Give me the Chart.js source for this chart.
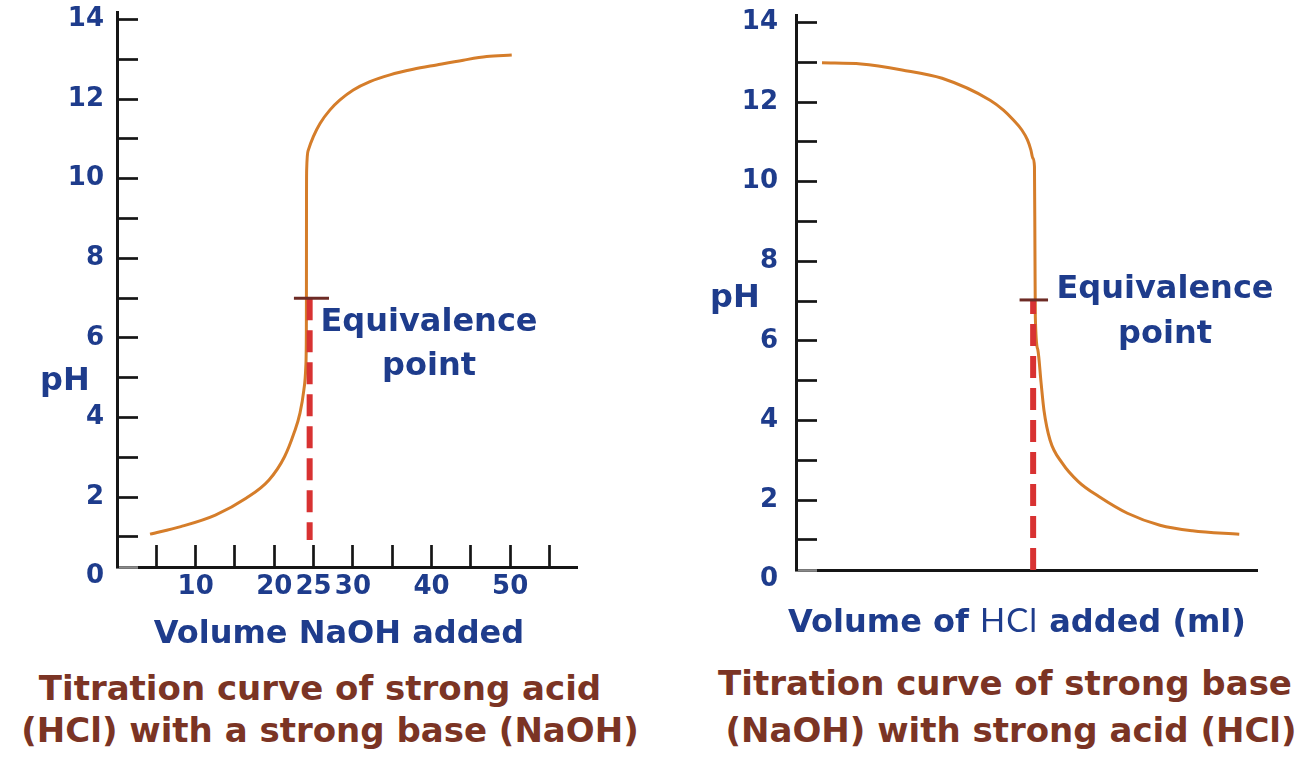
<!DOCTYPE html>
<html lang="en">
<head>
<meta charset="UTF-8" />
<title>Titration curves</title>
<style>
  * { box-sizing: border-box; margin: 0; padding: 0; }
  body {
    width: 1313px;
    height: 761px;
    background: #fff;
    position: relative;
    overflow: hidden;
    font-family: 'DejaVu Sans', sans-serif;
    font-weight: bold;
  }
  canvas { position: absolute; top: 0; }
  #acidChart { left: 0; }
  #baseChart { left: 680px; }
  .txt {
    position: absolute;
    white-space: nowrap;
    line-height: 1;
    color: #1e3c8c;
  }
  .c { transform: translateX(-50%); text-align: center; }
  .axis-t { font-size: 32px; }
  .eq { font-size: 32px; }
  .cap { font-size: 34px; color: #7b3424; }
  .hcl { font-family: Lato, 'Open Sans', sans-serif; font-weight: normal; font-size: 33px; letter-spacing: 1px; }
</style>
</head>
<body>
<canvas id="acidChart" width="640" height="620"></canvas>
<canvas id="baseChart" width="633" height="620"></canvas>

<div class="txt axis-t" style="left:40px; top:363px;">pH</div>
<div class="txt axis-t" style="left:710px; top:280px;">pH</div>

<div class="txt eq c" style="left:429px; top:298px; line-height:44px;">Equivalence<br>point</div>
<div class="txt eq c" style="left:1165px; top:265px; line-height:45px;">Equivalence<br>point</div>

<div class="txt axis-t c" style="left:339px; top:616px;">Volume NaOH added</div>
<div class="txt axis-t c" style="left:1017px; top:603px;">Volume of <span class="hcl">HCl</span> added (ml)</div>

<div class="txt cap c" style="left:320px; top:671px;">Titration curve of strong acid</div>
<div class="txt cap c" style="left:330px; top:713px;">(HCl) with a strong base (NaOH)</div>
<div class="txt cap c" style="left:1005px; top:666px;">Titration curve of strong base</div>
<div class="txt cap c" style="left:1011px; top:713px;">(NaOH) with strong acid (HCl)</div>

<script src="https://cdn.jsdelivr.net/npm/chart.js"></script>
<script>
// left: strong acid titrated with strong base
const acidVol = [4.2, 8.11, 12.51, 16.41, 19.33, 21.32, 22.51, 23.27, 23.76, 24.01, 24.08, 24.09, 24.10, 24.12,
  24.33, 24.97, 25.82, 27.09, 28.36, 30.05, 32.17, 34.71, 37.67, 40.65, 44.04, 47.02, 50.2];
const acidPH = [1.07, 1.26, 1.55, 1.97, 2.43, 3.02, 3.61, 4.11, 4.69, 5.28, 6.12, 6.95, 9.47, 10.22,
  10.72, 11.06, 11.39, 11.73, 11.98, 12.23, 12.44, 12.61, 12.75, 12.86, 12.98, 13.07, 13.11];
const acidEqVol = [24.5, 24.5];
const acidEqPH = [7.0, 0.92];
const acidMarkVol = [22.5, 26.96];
const acidMarkPH = [7.0, 7.0];

// right: strong base titrated with strong acid
const baseVol = [2.74, 6.86, 11.18, 15.40, 20.46, 21.87, 22.92, 23.81, 24.40, 24.76, 24.97, 25.14, 25.19,
  25.23, 25.50, 25.84, 26.14, 26.78, 28.07, 29.79, 31.93, 34.94, 38.37, 41.79, 46.73];
const basePH = [12.99, 12.96, 12.81, 12.60, 12.05, 11.80, 11.55, 11.30, 11.05, 10.80, 10.59, 10.38, 8.28,
  6.61, 5.77, 4.94, 4.26, 3.51, 2.93, 2.46, 2.09, 1.67, 1.37, 1.23, 1.14];
const baseEqVol = [25.0, 25.0];
const baseEqPH = [7.03, 0.244];
const baseMarkVol = [23.57, 26.57];
const baseMarkPH = [7.03, 7.03];

// axis ticks
const phTicks = [0, 1, 2, 3, 4, 5, 6, 7, 8, 9, 10, 11, 12, 13, 14];
const acidVolTicks = [5, 10, 15, 20, 25, 30, 35, 40, 45, 50, 55];
const acidVolLabels = [10, 20, 25, 30, 40, 50];

Chart.defaults.font.family = "'DejaVu Sans', sans-serif";

const pts = (xs, ys) => xs.map((x, i) => ({ x, y: ys[i] }));

const blue = '#1e3c8c';
const ink = '#151515';

const zeroPad = s => {
  s.paddingLeft = s.paddingRight = s.paddingTop = s.paddingBottom = 0;
};

// colour of the y tick marks: grey stub at the origin, none for the "0" label below the axis
const yTickColor = c => {
  if (!c.tick) return ink;
  if (c.tick.value === 0) return 'rgba(0,0,0,0)';
  return c.tick.value < 0.5 ? '#8a8a8a' : ink;
};

const makeChart = (id, o) => {
  const xScale = {
    type: 'linear',
    min: 0,
    max: o.xMax,
    border: { color: ink, width: 3 },
    grid: { drawOnChartArea: false, drawTicks: !!o.xTicks, tickLength: -22, tickWidth: 2.7, tickColor: ink },
    ticks: {
      display: !!o.xTicks,
      autoSkip: false,
      maxRotation: 0,
      padding: 27,
      color: blue,
      font: { size: 26, weight: 'bold' },
      callback: v => (o.xLabels && o.xLabels.includes(v)) ? v : ''
    },
    afterFit: s => { s.height = o.xHeight; zeroPad(s); }
  };
  if (o.xTicks) {
    xScale.afterBuildTicks = s => { s.ticks = o.xTicks.map(v => ({ value: v })); };
  }

  return new Chart(document.getElementById(id), {
    type: 'line',
    data: {
      datasets: [
        { data: pts(o.markVol, o.markPH), borderColor: '#6d2b25', borderWidth: 3 },
        { data: pts(o.eqVol, o.eqPH), borderColor: '#d83232', borderWidth: 6,
          borderDash: [22, 10], borderDashOffset: o.dashOffset },
        { data: pts(o.vol, o.ph), borderColor: '#d57d2a', borderWidth: 3, cubicInterpolationMode: 'monotone' }
      ]
    },
    options: {
      responsive: false,
      animation: false,
      events: [],
      elements: { point: { radius: 0 }, line: { tension: 0, fill: false } },
      layout: { autoPadding: false, padding: o.padding },
      plugins: { legend: { display: false }, tooltip: { enabled: false } },
      scales: {
        x: xScale,
        y: {
          type: 'linear',
          min: 0.244,
          max: 14.19,
          border: { z: 1, color: ink, width: 3 },
          grid: {
            z: 1,
            drawOnChartArea: false,
            tickLength: -21,
            tickWidth: 2.7,
            tickColor: yTickColor
          },
          ticks: {
            z: 1,
            autoSkip: false,
            padding: o.yPad,
            color: blue,
            font: { size: 26, weight: 'bold' },
            callback: v => v % 2 === 0 ? v : ''
          },
          afterBuildTicks: s => { s.ticks = [s.min].concat(phTicks).map(v => ({ value: v })); },
          afterFit: s => { s.width = o.yWidth; zeroPad(s); }
        }
      }
    }
  });
};

makeChart('acidChart', {
  vol: acidVol, ph: acidPH,
  eqVol: acidEqVol, eqPH: acidEqPH,
  markVol: acidMarkVol, markPH: acidMarkPH,
  xTicks: acidVolTicks, xLabels: acidVolLabels,
  xMax: 58.5, xHeight: 53, yWidth: 117, yPad: 34, dashOffset: 0,
  padding: { top: 12, right: 63, bottom: 0, left: 0 }
});

makeChart('baseChart', {
  vol: baseVol, ph: basePH,
  eqVol: baseEqVol, eqPH: baseEqPH,
  markVol: baseMarkVol, markPH: baseMarkPH,
  xTicks: null, xLabels: null,
  xMax: 48.6, xHeight: 50, yWidth: 116, yPad: 39, dashOffset: 8,
  padding: { top: 15, right: 56, bottom: 0, left: 0 }
});
</script>
</body>
</html>
